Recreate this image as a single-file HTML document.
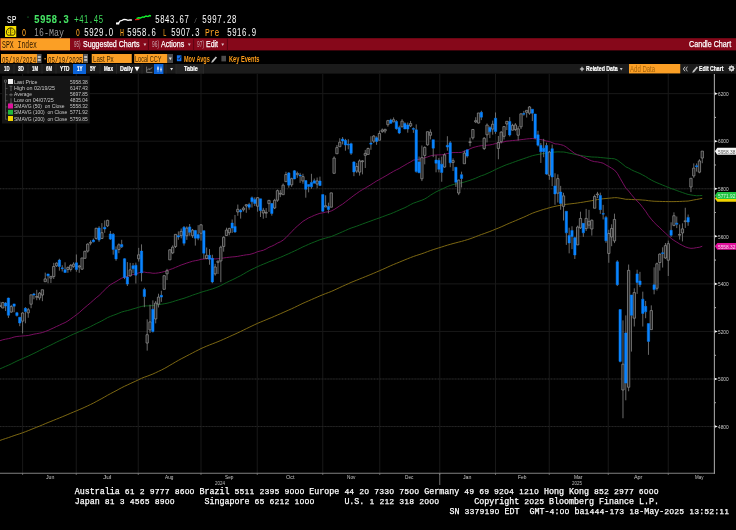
<!DOCTYPE html>
<html lang="en"><head><meta charset="utf-8"><title>SPX Index - Candle Chart</title>
<style>
html,body{margin:0;padding:0;background:#000;}
body{width:736px;height:530px;position:relative;overflow:hidden;font-family:"Liberation Sans",sans-serif;}
.chart{position:absolute;left:0;top:0;}
.t{position:absolute;white-space:pre;line-height:1;transform-origin:0 0;}
.m{font-family:"Liberation Mono",monospace;}
.m i{font-family:"Liberation Sans",sans-serif;font-style:normal;display:inline-block;width:0.6316em;font-size:0.95em;text-align:center;}
.r{position:absolute;}
.ic{position:absolute;overflow:visible;}
.foot{position:absolute;margin:0;left:74.75px;top:487.1px;font-family:"Liberation Mono",monospace;font-size:8.333px;line-height:10px;color:#fff;white-space:pre;-webkit-text-stroke:0.25px #fff;}
</style></head>
<body>
<svg class="chart" width="736" height="530" viewBox="0 0 736 530">
<path d="M22.6 74V473.25M76.25 74V473.25M138.25 74V473.25M201 74V473.25M257.25 74V473.25M322.75 74V473.25M379.75 74V473.25M439.75 74V473.25M495.5 74V473.25M549.25 74V473.25M608.25 74V473.25M668.25 74V473.25" stroke="#181818" stroke-width="1" fill="none"/>
<path d="M0 426.56H714.4M0 379.00H714.4M0 331.44H714.4M0 283.88H714.4M0 236.32H714.4M0 188.76H714.4M0 141.20H714.4M0 93.64H714.4" stroke="#181818" stroke-width="1" fill="none"/>
<path d="M0 426.56H714.4M0 379.00H714.4M0 188.76H714.4" stroke="#2a2a2a" stroke-width="1" stroke-dasharray="0.9 2" fill="none"/>
<polyline points="-0.07,440.46 2.76,439.46 5.59,438.52 8.43,437.61 11.26,436.61 14.09,435.62 16.92,434.66 19.75,433.78 22.59,432.78 25.42,431.73 28.25,430.64 31.08,429.47 33.91,428.34 36.75,427.19 39.58,426.10 42.41,424.91 45.24,423.70 48.07,422.51 50.91,421.40 53.74,420.26 56.57,419.10 59.40,417.96 62.23,416.81 65.07,415.64 67.90,414.43 70.73,413.22 73.56,412.03 76.39,410.84 79.23,409.65 82.06,408.45 84.89,407.16 87.72,405.84 90.55,404.49 93.39,403.10 96.22,401.55 99.05,400.04 101.88,398.52 104.71,396.91 107.55,395.25 110.38,393.72 113.21,392.23 116.04,390.78 118.87,389.19 121.71,387.66 124.54,386.27 127.37,384.97 130.20,383.64 133.03,382.32 135.87,381.06 138.70,379.67 141.53,378.34 144.36,377.18 147.19,376.21 150.03,375.11 152.86,374.02 155.69,372.71 158.52,371.37 161.35,370.07 164.19,368.59 167.02,367.02 169.85,365.32 172.68,363.68 175.51,361.99 178.35,360.38 181.18,358.83 184.01,357.39 186.84,355.88 189.67,354.41 192.51,352.93 195.34,351.45 198.17,350.05 201.00,348.58 203.83,347.35 206.67,346.14 209.50,344.96 212.33,343.89 215.16,342.79 217.99,341.66 220.83,340.47 223.66,339.24 226.49,337.96 229.32,336.68 232.15,335.39 234.99,334.14 237.82,332.81 240.65,331.46 243.48,330.09 246.31,328.69 249.15,327.33 251.98,325.98 254.81,324.65 257.64,323.32 260.47,322.13 263.31,320.95 266.14,319.79 268.97,318.59 271.80,317.48 274.63,316.23 277.47,314.99 280.30,313.77 283.13,312.53 285.96,311.25 288.79,310.02 291.63,308.75 294.46,307.44 297.29,306.06 300.12,304.68 302.95,303.30 305.79,302.08 308.62,300.82 311.45,299.60 314.28,298.36 317.11,297.12 319.95,295.87 322.78,294.72 325.61,293.59 328.44,292.56 331.27,291.45 334.11,290.18 336.94,288.87 339.77,287.56 342.60,286.24 345.43,284.98 348.27,283.72 351.10,282.41 353.93,281.26 356.76,280.15 359.59,278.99 362.43,277.85 365.26,276.72 368.09,275.56 370.92,274.42 373.75,273.23 376.59,271.99 379.42,270.76 382.25,269.55 385.08,268.31 387.91,266.99 390.75,265.69 393.58,264.49 396.41,263.35 399.24,262.20 402.07,261.00 404.91,259.84 407.74,258.70 410.57,257.59 413.40,256.49 416.23,255.55 419.07,254.64 421.90,253.72 424.73,252.71 427.56,251.62 430.39,250.59 433.23,249.63 436.06,248.73 438.89,247.83 441.72,246.97 444.55,246.06 447.39,245.17 450.22,244.38 453.05,243.56 455.88,242.84 458.71,242.09 461.55,241.38 464.38,240.55 467.21,239.73 470.04,238.79 472.87,237.79 475.71,236.68 478.54,235.59 481.37,234.52 484.20,233.57 487.03,232.49 489.87,231.49 492.70,230.36 495.53,229.20 498.36,228.08 501.19,226.87 504.03,225.62 506.86,224.29 509.69,223.08 512.52,221.90 515.35,220.72 518.19,219.52 521.02,218.31 523.85,217.13 526.68,215.83 529.51,214.49 532.35,213.24 535.18,212.18 538.01,211.23 540.84,210.32 543.67,209.40 546.51,208.63 549.34,207.76 552.17,207.02 555.00,206.38 557.83,205.75 560.67,205.22 563.50,204.67 566.33,204.30 569.16,204.01 571.99,203.66 574.83,203.36 577.66,202.96 580.49,202.52 583.32,202.11 586.15,201.58 588.99,201.13 591.82,200.67 594.65,200.10 597.48,199.60 600.31,199.17 603.15,198.76 605.98,198.50 608.81,198.22 611.64,197.97 614.47,197.68 617.31,197.73 620.14,198.20 622.97,198.71 625.80,199.29 628.63,199.30 631.47,199.51 634.30,199.64 637.13,199.72 639.96,199.83 642.79,200.05 645.63,200.27 648.46,200.69 651.29,200.99 654.12,201.22 656.95,201.32 659.79,201.38 662.62,201.51 665.45,201.54 668.28,201.59 671.11,201.62 673.95,201.60 676.78,201.53 679.61,201.45 682.44,201.30 685.27,201.18 688.11,201.06 690.94,200.56 693.77,199.98 696.60,199.47 699.43,198.93 702.27,198.31" fill="none" stroke="#8a7314" stroke-width="0.9" stroke-linejoin="round"/>
<polyline points="-0.07,368.91 2.76,367.63 5.59,366.38 8.43,365.20 11.26,363.86 14.09,362.43 16.92,361.06 19.75,359.78 22.59,358.55 25.42,357.30 28.25,356.09 31.08,354.73 33.91,353.38 36.75,351.99 39.58,350.52 42.41,349.10 45.24,347.72 48.07,346.33 50.91,344.99 53.74,343.55 56.57,342.14 59.40,340.75 62.23,339.48 65.07,338.23 67.90,336.75 70.73,335.39 73.56,334.14 76.39,332.91 79.23,331.67 82.06,330.45 84.89,329.17 87.72,327.88 90.55,326.57 93.39,325.09 96.22,323.59 99.05,322.27 101.88,320.82 104.71,319.26 107.55,317.63 110.38,316.43 113.21,315.35 116.04,314.32 118.87,313.16 121.71,312.00 124.54,311.22 127.37,310.59 130.20,309.81 133.03,308.90 135.87,308.11 138.70,307.24 141.53,306.47 144.36,305.93 147.19,305.90 150.03,305.73 152.86,305.61 155.69,305.13 158.52,304.66 161.35,304.27 164.19,303.77 167.02,303.26 169.85,302.53 172.68,301.73 175.51,300.77 178.35,299.94 181.18,299.07 184.01,298.29 186.84,297.27 189.67,296.31 192.51,295.17 195.34,294.24 198.17,293.32 201.00,292.28 203.83,291.40 206.67,290.64 209.50,289.73 212.33,288.91 215.16,287.91 217.99,286.79 220.83,285.49 223.66,284.00 226.49,282.54 229.32,281.20 232.15,279.86 234.99,278.50 237.82,277.05 240.65,275.65 243.48,274.03 246.31,272.33 249.15,270.76 251.98,269.29 254.81,267.97 257.64,266.60 260.47,265.36 263.31,264.18 266.14,263.05 268.97,261.79 271.80,260.72 274.63,259.67 277.47,258.49 280.30,257.36 283.13,256.15 285.96,254.87 288.79,253.66 291.63,252.30 294.46,251.02 297.29,249.69 300.12,248.30 302.95,246.83 305.79,245.60 308.62,244.34 311.45,243.11 314.28,242.00 317.11,240.86 319.95,239.75 322.78,238.93 325.61,238.09 328.44,237.39 331.27,236.56 334.11,235.38 336.94,234.19 339.77,232.98 342.60,231.73 345.43,230.49 348.27,229.21 351.10,228.07 353.93,227.14 356.76,226.16 359.59,225.08 362.43,224.02 365.26,222.98 368.09,221.95 370.92,220.95 373.75,219.88 376.59,218.88 379.42,217.93 382.25,216.83 385.08,215.80 387.91,214.72 390.75,213.75 393.58,212.55 396.41,211.35 399.24,210.09 402.07,208.85 404.91,207.67 407.74,206.19 410.57,204.58 413.40,203.18 416.23,202.20 419.07,201.18 421.90,200.21 424.73,198.95 427.56,197.31 430.39,195.28 433.23,193.54 436.06,191.86 438.89,190.52 441.72,189.28 444.55,187.85 447.39,186.57 450.22,185.49 453.05,184.60 455.88,183.95 458.71,183.41 461.55,182.82 464.38,182.04 467.21,181.17 470.04,180.31 472.87,179.28 475.71,178.18 478.54,176.93 481.37,175.72 484.20,174.85 487.03,173.57 489.87,172.34 492.70,170.99 495.53,169.49 498.36,168.24 501.19,166.95 504.03,165.74 506.86,164.58 509.69,163.63 512.52,162.60 515.35,161.57 518.19,160.54 521.02,159.58 523.85,158.60 526.68,157.63 529.51,156.65 532.35,155.71 535.18,155.07 538.01,154.49 540.84,154.03 543.67,153.44 546.51,153.08 549.34,152.48 552.17,152.24 555.00,152.05 557.83,151.83 560.67,151.96 563.50,151.98 566.33,152.46 569.16,153.14 571.99,153.65 574.83,154.42 577.66,154.90 580.49,155.35 583.32,155.92 586.15,156.34 588.99,156.66 591.82,157.00 594.65,157.09 597.48,157.20 600.31,157.49 603.15,157.78 605.98,158.07 608.81,158.35 611.64,158.54 614.47,158.81 617.31,160.07 620.14,162.21 622.97,164.43 625.80,166.85 628.63,168.11 631.47,169.81 634.30,171.20 637.13,172.31 639.96,173.49 642.79,175.02 645.63,176.52 648.46,178.40 651.29,180.03 654.12,181.48 656.95,182.76 659.79,183.88 662.62,185.08 665.45,186.24 668.28,187.38 671.11,188.53 673.95,189.45 676.78,190.50 679.61,191.56 682.44,192.52 685.27,193.52 688.11,194.45 690.94,194.94 693.77,195.38 696.60,195.76 699.43,195.65 702.27,195.44" fill="none" stroke="#0c661e" stroke-width="0.9" stroke-linejoin="round"/>
<polyline points="-0.07,340.75 2.76,339.79 5.59,339.16 8.43,338.67 11.26,337.94 14.09,337.04 16.92,336.48 19.75,336.21 22.59,335.96 25.42,335.76 28.25,335.49 31.08,334.84 33.91,334.13 36.75,333.66 39.58,333.16 42.41,332.53 45.24,331.51 48.07,330.45 50.91,329.10 53.74,327.82 56.57,326.46 59.40,325.21 62.23,323.77 65.07,322.58 67.90,320.94 70.73,318.96 73.56,316.91 76.39,314.82 79.23,312.62 82.06,310.04 84.89,307.54 87.72,305.17 90.55,302.79 93.39,300.28 96.22,297.74 99.05,295.51 101.88,292.75 104.71,289.84 107.55,286.97 110.38,284.78 113.21,283.05 116.04,281.54 118.87,279.75 121.71,278.12 124.54,277.15 127.37,276.31 130.20,275.29 133.03,274.56 135.87,273.89 138.70,272.85 141.53,272.19 144.36,272.07 147.19,272.65 150.03,272.78 152.86,273.28 155.69,273.22 158.52,272.85 161.35,272.33 164.19,271.58 167.02,270.77 169.85,269.57 172.68,268.62 175.51,267.40 178.35,266.21 181.18,264.98 184.01,264.05 186.84,263.03 189.67,262.16 192.51,261.24 195.34,260.67 198.17,260.17 201.00,259.34 203.83,259.03 206.67,258.69 209.50,258.53 212.33,258.86 215.16,258.91 217.99,258.75 220.83,258.37 223.66,257.96 226.49,257.54 229.32,257.22 232.15,256.93 234.99,256.73 237.82,256.35 240.65,255.79 243.48,255.30 246.31,254.82 249.15,254.56 251.98,253.81 254.81,252.89 257.64,251.66 260.47,250.98 263.31,250.25 266.14,248.95 268.97,247.27 271.80,246.15 274.63,244.78 277.47,243.09 280.30,241.86 283.13,240.11 285.96,237.67 288.79,234.68 291.63,231.81 294.46,228.76 297.29,226.17 300.12,223.74 302.95,221.33 305.79,219.61 308.62,217.92 311.45,216.66 314.28,215.38 317.11,214.31 319.95,213.28 322.78,212.88 325.61,212.13 328.44,211.75 331.27,210.97 334.11,209.52 336.94,207.71 339.77,205.79 342.60,204.11 345.43,201.95 348.27,199.74 351.10,197.62 353.93,195.42 356.76,193.41 359.59,191.40 362.43,189.68 365.26,188.00 368.09,186.37 370.92,184.68 373.75,182.84 376.59,181.03 379.42,179.51 382.25,177.88 385.08,176.30 387.91,174.62 390.75,172.94 393.58,171.30 396.41,169.80 399.24,168.51 402.07,166.72 404.91,165.10 407.74,163.43 410.57,161.89 413.40,160.20 416.23,159.63 419.07,159.27 421.90,158.55 424.73,157.80 427.56,156.94 430.39,155.88 433.23,155.27 436.06,154.96 438.89,154.88 441.72,154.81 444.55,154.38 447.39,153.53 450.22,153.06 453.05,152.54 455.88,152.52 458.71,152.50 461.55,152.36 464.38,151.20 467.21,150.21 470.04,148.86 472.87,147.59 475.71,146.84 478.54,146.15 481.37,145.65 484.20,145.60 487.03,145.20 489.87,144.94 492.70,144.36 495.53,143.55 498.36,143.07 501.19,142.50 504.03,141.81 506.86,141.17 509.69,140.90 512.52,140.52 515.35,140.30 518.19,140.05 521.02,139.65 523.85,139.33 526.68,138.95 529.51,138.68 532.35,138.48 535.18,138.85 538.01,139.18 540.84,139.56 543.67,140.17 546.51,141.07 549.34,141.53 552.17,142.59 555.00,143.89 557.83,144.03 560.67,144.64 563.50,145.41 566.33,147.12 569.16,149.34 571.99,151.43 574.83,153.56 577.66,154.84 580.49,155.82 583.32,157.03 586.15,158.30 588.99,159.78 591.82,160.93 594.65,161.65 597.48,161.89 600.31,162.48 603.15,163.19 605.98,164.94 608.81,166.49 611.64,168.22 614.47,170.02 617.31,173.30 620.14,178.27 622.97,183.21 625.80,188.11 628.63,191.01 631.47,194.68 634.30,198.05 637.13,201.07 639.96,203.91 642.79,207.53 645.63,211.24 648.46,215.64 651.29,219.15 654.12,222.43 656.95,225.21 659.79,227.72 662.62,230.50 665.45,233.14 668.28,235.80 671.11,238.37 673.95,240.42 676.78,242.15 679.61,243.94 682.44,245.48 685.27,246.87 688.11,247.83 690.94,248.35 693.77,248.18 696.60,247.63 699.43,247.28 702.27,246.23" fill="none" stroke="#86106a" stroke-width="0.9" stroke-linejoin="round"/>
<path d="M-0.07 301.64V305.66M-0.07 306.46V307.09M2.76 301.88V302.57M2.76 307.97V308.17M5.59 302.15V303.08M5.59 305.99V310.99M8.43 297.70V298.09M8.43 315.31V317.90M11.26 304.89V306.54M11.26 312.07V312.80M14.09 303.88V303.88M14.09 306.22V312.20M16.92 311.88V312.72M16.92 315.52V316.53M19.75 317.12V317.23M19.75 323.00V326.18M22.59 312.34V313.01M22.59 321.16V333.42M25.42 307.16V308.34M25.42 311.61V323.28M28.25 307.95V309.72M28.25 312.83V317.74M31.08 294.78V294.81M31.08 304.22V308.22M33.91 292.83V293.92M33.91 295.07V299.25M36.75 289.81V296.46M36.75 297.26V300.21M39.58 292.02V293.20M39.58 297.86V300.16M42.41 289.60V289.75M42.41 295.06V301.18M45.24 272.64V278.88M45.24 281.71V281.71M48.07 273.91V273.91M48.07 275.86V283.28M50.91 276.18V276.37M50.91 278.15V282.99M53.74 262.83V266.47M53.74 276.48V279.03M56.57 262.39V263.18M56.57 265.77V266.92M59.40 258.78V260.10M59.40 266.48V270.67M62.23 265.26V267.86M62.23 268.66V271.51M65.07 262.32V269.71M65.07 272.50V272.56M67.90 266.55V267.40M67.90 269.44V272.81M70.73 264.11V265.36M70.73 269.44V271.55M73.56 262.29V264.17M73.56 266.38V267.82M76.39 254.48V262.84M76.39 269.50V271.72M79.23 264.96V266.02M79.23 266.98V272.82M82.06 257.80V257.96M82.06 269.17V269.99M84.89 250.76V251.30M84.89 258.33V258.34M87.72 243.38V244.12M87.72 251.09V252.58M90.55 240.34V242.39M90.55 243.19V245.24M93.39 238.52V240.07M93.39 241.79V242.37M96.22 227.90V228.26M96.22 238.40V239.54M99.05 226.23V227.95M99.05 240.00V241.90M101.88 223.11V232.67M101.88 238.52V238.59M104.71 220.40V227.25M104.71 228.90V232.81M107.55 219.75V220.34M107.55 225.84V227.04M110.38 230.97V233.93M110.38 239.11V239.93M113.21 232.98V234.28M113.21 249.50V254.68M116.04 246.43V249.79M116.04 258.91V260.80M118.87 243.37V244.78M118.87 249.51V253.19M121.71 239.81V244.57M121.71 246.85V248.00M124.54 258.19V258.71M124.54 277.43V279.13M127.37 262.10V277.06M127.37 284.07V286.03M130.20 262.88V269.83M130.20 275.87V276.58M133.03 263.02V265.68M133.03 268.77V273.31M135.87 262.61V265.16M135.87 275.21V283.48M138.70 247.85V254.80M138.70 258.77V261.59M141.53 244.37V251.10M141.53 272.78V281.40M144.36 287.71V289.44M144.36 296.59V307.18M147.19 319.34V334.69M147.19 343.06V350.64M150.03 304.73V321.92M150.03 329.91V332.97M152.86 300.37V309.29M152.86 331.56V332.50M155.69 300.99V303.07M155.69 318.94V323.39M158.52 293.71V297.16M158.52 304.17V307.46M161.35 290.73V295.32M161.35 297.10V301.86M164.19 275.20V275.69M164.19 289.35V289.35M167.02 268.85V270.75M167.02 273.81V280.10M169.85 249.11V249.82M169.85 259.83V259.83M172.68 245.36V247.20M172.68 252.85V254.11M175.51 234.35V234.36M175.51 246.49V248.03M178.35 231.44V235.64M178.35 237.00V239.77M181.18 228.55V231.36M181.18 235.59V238.32M184.01 226.04V227.34M184.01 243.30V245.61M186.84 226.38V228.09M186.84 235.73V239.85M189.67 224.04V226.89M189.67 232.32V235.76M192.51 228.91V230.18M192.51 235.63V237.87M195.34 229.89V230.49M195.34 238.18V245.61M198.17 225.16V234.58M198.17 238.23V240.19M201.00 224.10V224.81M201.00 233.29V240.65M203.83 230.64V230.64M203.83 253.22V259.07M206.67 247.50V255.33M206.67 258.51V259.23M209.50 249.09V255.32M209.50 259.29V264.73M212.33 254.76V258.36M212.33 281.88V283.26M215.16 263.86V266.98M215.16 273.88V275.68M217.99 260.60V261.17M217.99 262.36V273.96M220.83 245.73V247.23M220.83 260.95V282.22M223.66 236.15V237.33M223.66 246.43V251.66M226.49 227.69V230.13M226.49 235.53V235.93M229.32 227.75V228.45M229.32 232.70V235.24M232.15 219.48V223.12M232.15 228.10V232.98M234.99 214.98V226.41M234.99 231.98V232.73M237.82 204.56V209.30M237.82 211.91V215.77M240.65 208.94V210.25M240.65 211.93V218.61M243.48 206.51V208.12M243.48 209.71V211.54M246.31 204.14V204.71M246.31 205.96V212.78M249.15 202.78V204.54M249.15 207.25V209.67M251.98 196.52V197.74M251.98 201.75V207.54M254.81 197.37V199.38M254.81 203.46V206.04M257.64 197.05V197.68M257.64 206.23V211.70M260.47 198.81V198.81M260.47 210.46V216.99M263.31 207.87V210.27M263.31 212.98V218.72M266.14 208.07V212.36M266.14 213.16V217.92M268.97 199.89V200.40M268.97 203.63V211.87M271.80 203.18V203.55M271.80 213.51V215.67M274.63 198.84V200.38M274.63 207.99V209.08M277.47 189.52V190.65M277.47 200.22V201.83M280.30 189.94V193.31M280.30 194.11V197.14M283.13 183.50V185.19M283.13 194.68V194.68M285.96 171.78V174.53M285.96 181.67V181.73M288.79 172.03V172.89M288.79 185.13V187.69M291.63 177.70V178.66M291.63 184.82V186.78M294.46 170.10V170.78M294.46 178.90V179.19M297.29 171.60V173.38M297.29 174.63V177.80M300.12 172.85V175.01M300.12 175.92V182.86M302.95 173.77V176.58M302.95 180.98V183.73M305.79 180.47V180.56M305.79 189.37V197.70M308.62 184.53V184.53M308.62 186.42V192.35M311.45 173.82V182.40M311.45 186.83V188.76M314.28 178.55V180.69M314.28 183.17V183.27M317.11 177.54V180.93M317.11 184.08V188.24M319.95 176.65V181.00M319.95 185.51V186.08M322.78 194.62V194.62M322.78 211.24V211.86M325.61 195.29V205.69M325.61 207.02V207.02M328.44 202.69V206.56M328.44 209.52V213.37M331.27 192.70V192.86M331.27 207.21V207.28M334.11 156.39V158.07M334.11 173.33V173.33M336.94 145.04V147.60M336.94 153.75V153.75M339.77 138.24V142.26M339.77 146.73V146.73M342.60 137.08V139.09M342.60 140.88V144.37M345.43 138.84V140.34M345.43 145.01V150.69M348.27 139.25V144.23M348.27 145.03V149.31M351.10 142.66V143.65M351.10 153.29V154.93M353.93 161.34V161.94M353.93 171.97V176.15M356.76 163.05V166.50M356.76 171.12V173.08M359.59 159.39V160.94M359.59 172.10V175.61M362.43 160.06V160.84M362.43 161.64V174.36M365.26 149.92V153.40M365.26 155.33V168.01M368.09 147.64V148.49M368.09 154.43V154.43M370.92 136.27V143.04M370.92 144.20V149.78M373.75 135.16V136.06M373.75 141.19V143.04M376.59 136.41V137.84M376.59 141.50V144.80M379.42 130.70V133.50M379.42 140.25V140.25M382.25 128.46V129.99M382.25 131.66V132.80M385.08 128.82V129.34M385.08 130.98V133.26M387.91 119.84V120.63M387.91 124.70V126.68M390.75 118.72V120.03M390.75 123.34V123.86M393.58 117.43V119.73M393.58 121.85V122.18M396.41 120.15V121.46M396.41 128.63V129.64M399.24 125.65V127.51M399.24 132.90V134.09M402.07 119.18V121.18M402.07 126.90V126.90M404.91 122.25V123.53M404.91 129.01V129.01M407.74 122.51V124.99M407.74 129.05V132.69M410.57 120.94V123.58M410.57 126.03V127.14M413.40 127.48V128.53M413.40 129.33V132.83M416.23 124.39V129.87M416.23 171.60V172.64M419.07 156.53V161.96M419.07 172.81V173.05M421.90 145.47V157.64M421.90 178.77V181.08M424.73 146.37V147.37M424.73 155.41V164.37M427.56 131.66V131.68M427.56 144.85V145.61M430.39 129.37V132.26M430.39 135.26V139.45M433.23 139.73V139.73M433.23 148.13V157.14M436.06 155.28V160.06M436.06 163.33V172.31M438.89 157.91V160.29M438.89 169.35V172.39M441.72 156.64V164.20M441.72 172.46V181.74M444.55 153.25V154.88M444.55 167.10V167.68M447.39 136.20V145.29M447.39 147.05V150.71M450.22 141.04V142.80M450.22 162.83V167.20M453.05 158.35V160.64M453.05 162.45V170.98M455.88 167.27V167.27M455.88 182.33V186.91M458.71 179.58V180.15M458.71 193.04V195.11M461.55 171.66V174.67M461.55 178.56V187.47M464.38 150.57V153.11M464.38 163.74V163.74M467.21 149.60V149.85M467.21 156.10V157.67M470.04 137.64V141.74M470.04 142.54V146.33M472.87 128.95V129.49M472.87 137.84V139.56M475.71 117.23V120.66M475.71 121.85V123.10M478.54 112.97V112.97M478.54 123.05V123.44M481.37 110.72V112.32M481.37 117.13V120.10M484.20 137.12V138.28M484.20 148.56V150.02M487.03 123.47V125.10M487.03 134.79V142.48M489.87 126.26V127.48M489.87 131.85V138.12M492.70 120.60V124.28M492.70 129.13V134.67M495.53 112.45V118.18M495.53 131.56V133.84M498.36 135.94V142.49M498.36 148.42V159.29M501.19 131.10V132.19M501.19 141.64V143.37M504.03 126.25V126.58M504.03 136.34V139.52M506.86 121.22V121.33M506.86 124.03V130.06M509.69 117.12V121.43M509.69 135.02V136.45M512.52 123.75V125.40M512.52 130.17V130.54M515.35 123.06V124.91M515.35 129.47V131.13M518.19 126.22V128.84M518.19 135.24V140.49M521.02 113.40V113.84M521.02 126.79V129.08M523.85 110.89V113.44M523.85 114.24V115.61M526.68 110.37V110.39M526.68 112.28V117.54M529.51 106.14V106.92M529.51 113.20V114.77M532.35 109.22V109.22M532.35 113.25V121.08M535.18 113.90V114.07M535.18 138.08V139.16M538.01 130.82V134.85M538.01 145.18V146.47M540.84 142.95V145.31M540.84 151.84V162.96M543.67 138.86V148.13M543.67 151.65V157.21M546.51 142.70V145.51M546.51 174.12V174.78M549.34 150.85V152.02M549.34 175.27V179.80M552.17 144.51V148.73M552.17 176.94V186.17M555.00 173.28V185.91M555.00 193.96V204.79M557.83 174.35V178.62M557.83 193.19V202.47M560.67 185.89V192.12M560.67 203.38V209.77M563.50 192.80V195.85M563.50 206.35V220.56M566.33 211.26V211.26M566.33 232.86V244.88M569.16 227.69V235.45M569.16 242.96V253.34M571.99 226.29V230.41M571.99 236.49V249.14M574.83 236.85V237.64M574.83 254.98V258.99M577.66 225.55V227.06M577.66 244.92V244.92M580.49 211.70V218.46M580.49 227.85V228.92M583.32 223.35V223.35M583.32 232.83V236.85M586.15 208.89V218.42M586.15 228.62V231.04M588.99 209.89V221.36M588.99 225.16V228.63M591.82 219.47V220.25M591.82 229.01V235.58M594.65 194.67V196.47M594.65 208.24V208.24M597.48 191.86V193.99M597.48 194.79V198.17M600.31 192.66V195.50M600.31 209.64V213.87M603.15 204.86V213.45M603.15 214.25V219.45M605.98 215.90V217.49M605.98 240.85V242.88M608.81 229.77V233.50M608.81 253.46V262.78M611.64 224.29V228.46M611.64 236.91V246.18M614.47 213.66V219.44M614.47 240.90V243.10M617.31 260.21V261.83M617.31 284.71V286.06M620.14 309.53V309.53M620.14 361.38V362.38M622.97 320.37V364.20M622.97 389.99V418.23M625.80 315.40V332.97M625.80 383.10V400.30M628.63 264.54V270.35M628.63 387.26V391.26M631.47 295.02V295.02M631.47 315.26V351.59M634.30 288.29V292.59M634.30 318.23V326.50M637.13 269.74V273.90M637.13 282.46V293.86M639.96 271.89V281.03M639.96 284.68V287.10M642.79 291.67V299.16M642.79 313.44V326.50M645.63 300.93V306.36M645.63 311.77V318.22M648.46 323.61V323.61M648.46 341.38V354.83M651.29 305.37V310.57M651.29 329.62V329.62M654.12 267.31V284.85M654.12 289.62V294.30M656.95 262.62V263.72M656.95 288.31V290.55M659.79 253.42V254.11M659.79 262.54V270.60M662.62 247.34V252.81M662.62 253.61V267.56M665.45 242.99V245.63M665.45 257.99V258.74M668.28 240.64V243.68M668.28 260.23V275.98M671.11 222.31V230.34M671.11 235.34V236.95M673.95 212.37V215.71M673.95 225.41V226.27M676.78 216.49V223.16M676.78 224.34V228.12M679.61 224.53V234.40M679.61 235.20V239.64M682.44 223.31V228.88M682.44 232.95V241.40M685.27 207.76V220.81M685.27 221.61V227.91M688.11 214.52V217.38M688.11 222.07V225.82M690.94 177.97V178.25M690.94 187.05V192.07M693.77 163.40V168.18M693.77 175.88V177.85M696.60 163.42V165.76M696.60 166.74V171.61M699.43 159.22V160.95M699.43 172.16V173.26M702.27 151.04V151.10M702.27 158.06V163.23" stroke="#858585" stroke-width="0.8" fill="none"/>
<path d="M-1.22 305.66h2.3V306.46h-2.3zM1.61 302.57h2.3V307.97h-2.3zM10.11 306.54h2.3V312.07h-2.3zM21.44 313.01h2.3V321.16h-2.3zM27.10 309.72h2.3V312.83h-2.3zM29.93 294.81h2.3V304.22h-2.3zM35.60 296.46h2.3V297.26h-2.3zM38.43 293.20h2.3V297.86h-2.3zM41.26 289.75h2.3V295.06h-2.3zM44.09 278.88h2.3V281.71h-2.3zM49.76 276.37h2.3V278.15h-2.3zM52.59 266.47h2.3V276.48h-2.3zM55.42 263.18h2.3V265.77h-2.3zM66.75 267.40h2.3V269.44h-2.3zM69.58 265.36h2.3V269.44h-2.3zM72.41 264.17h2.3V266.38h-2.3zM78.08 266.02h2.3V266.98h-2.3zM80.91 257.96h2.3V269.17h-2.3zM83.74 251.30h2.3V258.33h-2.3zM86.57 244.12h2.3V251.09h-2.3zM89.40 242.39h2.3V243.19h-2.3zM95.07 228.26h2.3V238.40h-2.3zM100.73 232.67h2.3V238.52h-2.3zM106.40 220.34h2.3V225.84h-2.3zM117.72 244.78h2.3V249.51h-2.3zM129.05 269.83h2.3V275.87h-2.3zM137.55 254.80h2.3V258.77h-2.3zM146.04 334.69h2.3V343.06h-2.3zM148.88 321.92h2.3V329.91h-2.3zM154.54 303.07h2.3V318.94h-2.3zM157.37 297.16h2.3V304.17h-2.3zM163.04 275.69h2.3V289.35h-2.3zM165.87 270.75h2.3V273.81h-2.3zM168.70 249.82h2.3V259.83h-2.3zM171.53 247.20h2.3V252.85h-2.3zM174.36 234.36h2.3V246.49h-2.3zM180.03 231.36h2.3V235.59h-2.3zM185.69 228.09h2.3V235.73h-2.3zM191.36 230.18h2.3V235.63h-2.3zM199.85 224.81h2.3V233.29h-2.3zM205.52 255.33h2.3V258.51h-2.3zM214.01 266.98h2.3V273.88h-2.3zM216.84 261.17h2.3V262.36h-2.3zM219.68 247.23h2.3V260.95h-2.3zM222.51 237.33h2.3V246.43h-2.3zM225.34 230.13h2.3V235.53h-2.3zM228.17 228.45h2.3V232.70h-2.3zM236.67 209.30h2.3V211.91h-2.3zM242.33 208.12h2.3V209.71h-2.3zM245.16 204.71h2.3V205.96h-2.3zM256.49 197.68h2.3V206.23h-2.3zM262.16 210.27h2.3V212.98h-2.3zM264.99 212.36h2.3V213.16h-2.3zM267.82 200.40h2.3V203.63h-2.3zM273.48 200.38h2.3V207.99h-2.3zM276.32 190.65h2.3V200.22h-2.3zM279.15 193.31h2.3V194.11h-2.3zM281.98 185.19h2.3V194.68h-2.3zM284.81 174.53h2.3V181.67h-2.3zM290.48 178.66h2.3V184.82h-2.3zM296.14 173.38h2.3V174.63h-2.3zM301.80 176.58h2.3V180.98h-2.3zM315.96 180.93h2.3V184.08h-2.3zM324.46 205.69h2.3V207.02h-2.3zM330.12 192.86h2.3V207.21h-2.3zM332.96 158.07h2.3V173.33h-2.3zM335.79 147.60h2.3V153.75h-2.3zM338.62 142.26h2.3V146.73h-2.3zM355.61 166.50h2.3V171.12h-2.3zM358.44 160.94h2.3V172.10h-2.3zM361.28 160.84h2.3V161.64h-2.3zM364.11 153.40h2.3V155.33h-2.3zM366.94 148.49h2.3V154.43h-2.3zM372.60 136.06h2.3V141.19h-2.3zM378.27 133.50h2.3V140.25h-2.3zM381.10 129.99h2.3V131.66h-2.3zM383.93 129.34h2.3V130.98h-2.3zM386.76 120.63h2.3V124.70h-2.3zM392.43 119.73h2.3V121.85h-2.3zM400.92 121.18h2.3V126.90h-2.3zM409.42 123.58h2.3V126.03h-2.3zM420.75 157.64h2.3V178.77h-2.3zM423.58 147.37h2.3V155.41h-2.3zM426.41 131.68h2.3V144.85h-2.3zM429.24 132.26h2.3V135.26h-2.3zM443.40 154.88h2.3V167.10h-2.3zM451.90 160.64h2.3V162.45h-2.3zM457.56 180.15h2.3V193.04h-2.3zM463.23 153.11h2.3V163.74h-2.3zM468.89 141.74h2.3V142.54h-2.3zM471.72 129.49h2.3V137.84h-2.3zM474.56 120.66h2.3V121.85h-2.3zM477.39 112.97h2.3V123.05h-2.3zM483.05 138.28h2.3V148.56h-2.3zM485.88 125.10h2.3V134.79h-2.3zM491.55 124.28h2.3V129.13h-2.3zM497.21 142.49h2.3V148.42h-2.3zM500.04 132.19h2.3V141.64h-2.3zM502.88 126.58h2.3V136.34h-2.3zM505.71 121.33h2.3V124.03h-2.3zM511.37 125.40h2.3V130.17h-2.3zM514.20 124.91h2.3V129.47h-2.3zM517.04 128.84h2.3V135.24h-2.3zM519.87 113.84h2.3V126.79h-2.3zM525.53 110.39h2.3V112.28h-2.3zM528.36 106.92h2.3V113.20h-2.3zM548.19 152.02h2.3V175.27h-2.3zM556.68 178.62h2.3V193.19h-2.3zM562.35 195.85h2.3V206.35h-2.3zM576.51 227.06h2.3V244.92h-2.3zM579.34 218.46h2.3V227.85h-2.3zM585.00 218.42h2.3V228.62h-2.3zM587.84 221.36h2.3V225.16h-2.3zM590.67 220.25h2.3V229.01h-2.3zM593.50 196.47h2.3V208.24h-2.3zM596.33 193.99h2.3V194.79h-2.3zM607.66 233.50h2.3V253.46h-2.3zM610.49 228.46h2.3V236.91h-2.3zM613.32 219.44h2.3V240.90h-2.3zM621.82 364.20h2.3V389.99h-2.3zM627.48 270.35h2.3V387.26h-2.3zM633.15 292.59h2.3V318.23h-2.3zM650.14 310.57h2.3V329.62h-2.3zM655.80 263.72h2.3V288.31h-2.3zM658.64 254.11h2.3V262.54h-2.3zM664.30 245.63h2.3V257.99h-2.3zM667.13 243.68h2.3V260.23h-2.3zM672.80 215.71h2.3V225.41h-2.3zM678.46 234.40h2.3V235.20h-2.3zM681.29 228.88h2.3V232.95h-2.3zM684.12 220.81h2.3V221.61h-2.3zM689.79 178.25h2.3V187.05h-2.3zM692.62 168.18h2.3V175.88h-2.3zM698.28 160.95h2.3V172.16h-2.3zM701.12 151.10h2.3V158.06h-2.3z" stroke="#9a9a9a" stroke-width="0.7" fill="#1f1f1f"/>
<path d="M4.44 303.08h2.3V305.99h-2.3zM7.28 298.09h2.3V315.31h-2.3zM12.94 303.88h2.3V306.22h-2.3zM15.77 312.72h2.3V315.52h-2.3zM18.60 317.23h2.3V323.00h-2.3zM24.27 308.34h2.3V311.61h-2.3zM32.76 293.92h2.3V295.07h-2.3zM46.92 273.91h2.3V275.86h-2.3zM58.25 260.10h2.3V266.48h-2.3zM61.08 267.86h2.3V268.66h-2.3zM63.92 269.71h2.3V272.50h-2.3zM75.24 262.84h2.3V269.50h-2.3zM92.24 240.07h2.3V241.79h-2.3zM97.90 227.95h2.3V240.00h-2.3zM103.56 227.25h2.3V228.90h-2.3zM109.23 233.93h2.3V239.11h-2.3zM112.06 234.28h2.3V249.50h-2.3zM114.89 249.79h2.3V258.91h-2.3zM120.56 244.57h2.3V246.85h-2.3zM123.39 258.71h2.3V277.43h-2.3zM126.22 277.06h2.3V284.07h-2.3zM131.88 265.68h2.3V268.77h-2.3zM134.72 265.16h2.3V275.21h-2.3zM140.38 251.10h2.3V272.78h-2.3zM143.21 289.44h2.3V296.59h-2.3zM151.71 309.29h2.3V331.56h-2.3zM160.20 295.32h2.3V297.10h-2.3zM177.20 235.64h2.3V237.00h-2.3zM182.86 227.34h2.3V243.30h-2.3zM188.52 226.89h2.3V232.32h-2.3zM194.19 230.49h2.3V238.18h-2.3zM197.02 234.58h2.3V238.23h-2.3zM202.68 230.64h2.3V253.22h-2.3zM208.35 255.32h2.3V259.29h-2.3zM211.18 258.36h2.3V281.88h-2.3zM231.00 223.12h2.3V228.10h-2.3zM233.84 226.41h2.3V231.98h-2.3zM239.50 210.25h2.3V211.93h-2.3zM248.00 204.54h2.3V207.25h-2.3zM250.83 197.74h2.3V201.75h-2.3zM253.66 199.38h2.3V203.46h-2.3zM259.32 198.81h2.3V210.46h-2.3zM270.65 203.55h2.3V213.51h-2.3zM287.64 172.89h2.3V185.13h-2.3zM293.31 170.78h2.3V178.90h-2.3zM298.97 175.01h2.3V175.92h-2.3zM304.64 180.56h2.3V189.37h-2.3zM307.47 184.53h2.3V186.42h-2.3zM310.30 182.40h2.3V186.83h-2.3zM313.13 180.69h2.3V183.17h-2.3zM318.80 181.00h2.3V185.51h-2.3zM321.63 194.62h2.3V211.24h-2.3zM327.29 206.56h2.3V209.52h-2.3zM341.45 139.09h2.3V140.88h-2.3zM344.28 140.34h2.3V145.01h-2.3zM347.12 144.23h2.3V145.03h-2.3zM349.95 143.65h2.3V153.29h-2.3zM352.78 161.94h2.3V171.97h-2.3zM369.77 143.04h2.3V144.20h-2.3zM375.44 137.84h2.3V141.50h-2.3zM389.60 120.03h2.3V123.34h-2.3zM395.26 121.46h2.3V128.63h-2.3zM398.09 127.51h2.3V132.90h-2.3zM403.76 123.53h2.3V129.01h-2.3zM406.59 124.99h2.3V129.05h-2.3zM412.25 128.53h2.3V129.33h-2.3zM415.08 129.87h2.3V171.60h-2.3zM417.92 161.96h2.3V172.81h-2.3zM432.08 139.73h2.3V148.13h-2.3zM434.91 160.06h2.3V163.33h-2.3zM437.74 160.29h2.3V169.35h-2.3zM440.57 164.20h2.3V172.46h-2.3zM446.24 145.29h2.3V147.05h-2.3zM449.07 142.80h2.3V162.83h-2.3zM454.73 167.27h2.3V182.33h-2.3zM460.40 174.67h2.3V178.56h-2.3zM466.06 149.85h2.3V156.10h-2.3zM480.22 112.32h2.3V117.13h-2.3zM488.72 127.48h2.3V131.85h-2.3zM494.38 118.18h2.3V131.56h-2.3zM508.54 121.43h2.3V135.02h-2.3zM522.70 113.44h2.3V114.24h-2.3zM531.20 109.22h2.3V113.25h-2.3zM534.03 114.07h2.3V138.08h-2.3zM536.86 134.85h2.3V145.18h-2.3zM539.69 145.31h2.3V151.84h-2.3zM542.52 148.13h2.3V151.65h-2.3zM545.36 145.51h2.3V174.12h-2.3zM551.02 148.73h2.3V176.94h-2.3zM553.85 185.91h2.3V193.96h-2.3zM559.52 192.12h2.3V203.38h-2.3zM565.18 211.26h2.3V232.86h-2.3zM568.01 235.45h2.3V242.96h-2.3zM570.84 230.41h2.3V236.49h-2.3zM573.68 237.64h2.3V254.98h-2.3zM582.17 223.35h2.3V232.83h-2.3zM599.16 195.50h2.3V209.64h-2.3zM602.00 213.45h2.3V214.25h-2.3zM604.83 217.49h2.3V240.85h-2.3zM616.16 261.83h2.3V284.71h-2.3zM618.99 309.53h2.3V361.38h-2.3zM624.65 332.97h2.3V383.10h-2.3zM630.32 295.02h2.3V315.26h-2.3zM635.98 273.90h2.3V282.46h-2.3zM638.81 281.03h2.3V284.68h-2.3zM641.64 299.16h2.3V313.44h-2.3zM644.48 306.36h2.3V311.77h-2.3zM647.31 323.61h2.3V341.38h-2.3zM652.97 284.85h2.3V289.62h-2.3zM661.47 252.81h2.3V253.61h-2.3zM669.96 230.34h2.3V235.34h-2.3zM675.63 223.16h2.3V224.34h-2.3zM686.96 217.38h2.3V222.07h-2.3zM695.45 165.76h2.3V166.74h-2.3z" stroke="#0a84ff" stroke-width="0.5" fill="#0a84ff"/>
<path d="M0 473.25H715.0" stroke="#808080" stroke-width="1" fill="none"/>
<path d="M714.4 74V473.75" stroke="#a0a0a0" stroke-width="1.1" fill="none"/>
<path d="M714.8 425.26L717.8 426.56L714.8 427.86zM714.8 377.70L717.8 379.00L714.8 380.30zM714.8 330.14L717.8 331.44L714.8 332.74zM714.8 282.58L717.8 283.88L714.8 285.18zM714.8 235.02L717.8 236.32L714.8 237.62zM714.8 187.46L717.8 188.76L714.8 190.06zM714.8 139.90L717.8 141.20L714.8 142.50zM714.8 92.34L717.8 93.64L714.8 94.94zM714.9 401.98L716.0 402.78L714.9 403.58zM714.9 354.42L716.0 355.22L714.9 356.02zM714.9 306.86L716.0 307.66L714.9 308.46zM714.9 259.30L716.0 260.10L714.9 260.90zM714.9 211.74L716.0 212.54L714.9 213.34zM714.9 164.18L716.0 164.98L714.9 165.78zM714.9 116.62L716.0 117.42L714.9 118.22z" fill="#f2f2f2"/>
<path d="M22.6 473.25v1.6M76.25 473.25v1.6M138.25 473.25v1.6M201 473.25v1.6M257.25 473.25v1.6M322.75 473.25v1.6M379.75 473.25v1.6M439.75 473.25v1.6M495.5 473.25v1.6M549.25 473.25v1.6M608.25 473.25v1.6M668.25 473.25v1.6M439.75 473.25V485" stroke="#8a8a8a" stroke-width="0.8" fill="none"/>
<path d="M714.9 198.41L717.3 194.96H736V201.86H717.3z" fill="#f2d400"/>
<path d="M714.9 195.54L717.3 192.09H736V198.99H717.3z" fill="#22c545"/>
<path d="M714.9 246.33L717.3 242.88H736V249.78H717.3z" fill="#e0109c"/>
<path d="M714.9 151.20L717.3 147.75H736V154.65H717.3z" fill="#f4f4f4"/>
</svg>
<span class="t m" style="left:6.50px;top:15.49px;font-size:10.65px;transform:scaleX(0.744);color:#ffffff;">SP</span>
<svg class="r" style="left:27px;top:16px" width="2" height="2"><rect x="0.50" y="0.60" width="1.00" height="1.00" fill="#2aa644"/></svg>
<span class="t m" style="left:33.75px;top:15.26px;font-size:10.95px;transform:scaleX(0.888);color:#46e465;font-weight:bold;-webkit-text-stroke:0.12px #46e465;"><i>5</i><i>9</i><i>5</i><i>8</i>.<i>3</i></span>
<span class="t m" style="left:73.75px;top:15.49px;font-size:10.65px;transform:scaleX(0.763);color:#3fdc5c;">+<i>4</i><i>1</i>.<i>4</i><i>5</i></span>
<span class="t m" style="left:154.50px;top:15.49px;font-size:10.65px;transform:scaleX(0.763);color:#ffffff;"><i>5</i><i>8</i><i>4</i><i>3</i>.<i>6</i><i>7</i></span>
<span class="t m" style="left:194.00px;top:18.22px;font-size:7.60px;transform:scaleX(0.657);color:#7c7c7c;">/</span>
<span class="t m" style="left:201.50px;top:15.49px;font-size:10.65px;transform:scaleX(0.777);color:#ffffff;"><i>5</i><i>9</i><i>9</i><i>7</i>.<i>2</i><i>8</i></span>
<span class="t m" style="left:22.00px;top:28.49px;font-size:10.65px;transform:scaleX(0.626);color:#ffa424;">O</span>
<span class="t m" style="left:33.90px;top:28.49px;font-size:10.65px;transform:scaleX(0.785);color:#9a9a9a;"><i>1</i><i>6</i>-May</span>
<span class="t m" style="left:76.25px;top:28.49px;font-size:10.65px;transform:scaleX(0.587);color:#ffa424;">O</span>
<span class="t m" style="left:83.50px;top:28.49px;font-size:10.65px;transform:scaleX(0.770);color:#ffffff;"><i>5</i><i>9</i><i>2</i><i>9</i>.<i>0</i></span>
<span class="t m" style="left:119.50px;top:28.49px;font-size:10.65px;transform:scaleX(0.626);color:#ffa424;">H</span>
<span class="t m" style="left:126.75px;top:28.49px;font-size:10.65px;transform:scaleX(0.763);color:#ffffff;"><i>5</i><i>9</i><i>5</i><i>8</i>.<i>6</i></span>
<span class="t m" style="left:163.00px;top:28.49px;font-size:10.65px;transform:scaleX(0.548);color:#ffa424;">L</span>
<span class="t m" style="left:170.75px;top:28.49px;font-size:10.65px;transform:scaleX(0.753);color:#ffffff;"><i>5</i><i>9</i><i>0</i><i>7</i>.<i>3</i></span>
<span class="t m" style="left:204.60px;top:28.49px;font-size:10.65px;transform:scaleX(0.751);color:#ffa424;">Pre</span>
<span class="t m" style="left:226.50px;top:28.49px;font-size:10.65px;transform:scaleX(0.770);color:#ffffff;"><i>5</i><i>9</i><i>1</i><i>6</i>.<i>9</i></span>
<svg class="r" style="left:0px;top:38px" width="736" height="13"><rect x="0.00" y="0.20" width="736.00" height="12.20" fill="#86081a"/></svg>
<svg class="r" style="left:0px;top:38px" width="70" height="13"><rect x="0.60" y="0.30" width="69.40" height="12.00" fill="#fb9f25"/></svg>
<span class="t m" style="left:2.00px;top:40.41px;font-size:10.95px;transform:scaleX(0.592);color:#2a1700;">SPX Index</span>
<span class="t" style="left:73.50px;top:40.32px;font-size:9.31px;transform:scaleX(0.483);color:#c7a3ab;">95)</span>
<span class="t" style="left:83.00px;top:40.24px;font-size:9.16px;transform:scaleX(0.772);color:#ffffff;-webkit-text-stroke:0.25px #fff;">Suggested Charts</span>
<span class="t" style="left:152.00px;top:40.32px;font-size:9.31px;transform:scaleX(0.520);color:#c7a3ab;">96)</span>
<span class="t" style="left:161.00px;top:40.24px;font-size:9.16px;transform:scaleX(0.774);color:#ffffff;-webkit-text-stroke:0.25px #fff;">Actions</span>
<span class="t" style="left:197.00px;top:40.32px;font-size:9.31px;transform:scaleX(0.520);color:#c7a3ab;">97)</span>
<span class="t" style="left:206.00px;top:40.24px;font-size:9.16px;transform:scaleX(0.760);color:#ffffff;-webkit-text-stroke:0.25px #fff;">Edit</span>
<span class="t" style="left:688.75px;top:39.84px;font-size:9.16px;transform:scaleX(0.782);color:#ffffff;-webkit-text-stroke:0.25px #fff;">Candle Chart</span>
<svg class="r" style="left:147px;top:38px" width="2" height="13"><rect x="0.90" y="0.20" width="1.00" height="12.20" fill="#5c0512"/></svg>
<svg class="r" style="left:193px;top:38px" width="2" height="13"><rect x="0.10" y="0.20" width="1.00" height="12.20" fill="#5c0512"/></svg>
<svg class="r" style="left:226px;top:38px" width="2" height="13"><rect x="0.90" y="0.20" width="1.00" height="12.20" fill="#5c0512"/></svg>
<svg class="r" style="left:142px;top:42px" width="6" height="6"><path d="M1.45 1.40h2.9L2.90 3.90z" fill="#dcc3c8"/></svg>
<svg class="r" style="left:186px;top:42px" width="6" height="6"><path d="M1.85 1.40h2.9L3.30 3.90z" fill="#dcc3c8"/></svg>
<svg class="r" style="left:220px;top:42px" width="6" height="6"><path d="M1.25 1.40h2.9L2.70 3.90z" fill="#dcc3c8"/></svg>
<svg class="r" style="left:1px;top:54px" width="36" height="9"><rect x="0.00" y="0.00" width="36.00" height="9.00" fill="#fb9f25"/></svg>
<svg class="r" style="left:37px;top:54px" width="5" height="9"><rect x="0.00" y="0.00" width="4.50" height="9.00" fill="#5a5a5a"/></svg>
<svg class="r" style="left:47px;top:54px" width="36" height="9"><rect x="0.00" y="0.00" width="36.00" height="9.00" fill="#fb9f25"/></svg>
<svg class="r" style="left:83px;top:54px" width="5" height="9"><rect x="0.30" y="0.00" width="4.70" height="9.00" fill="#5a5a5a"/></svg>
<svg class="r" style="left:91px;top:54px" width="41" height="9"><rect x="0.75" y="0.00" width="40.00" height="9.00" fill="#fb9f25"/></svg>
<svg class="r" style="left:134px;top:54px" width="34" height="9"><rect x="0.25" y="0.00" width="33.25" height="9.00" fill="#fb9f25"/></svg>
<svg class="r" style="left:167px;top:54px" width="6" height="9"><rect x="0.50" y="0.00" width="5.50" height="9.00" fill="#4a4a4a"/></svg>
<svg class="r" style="left:44px;top:58px" width="2" height="2"><rect x="0.30" y="0.30" width="1.70" height="1.00" fill="#ffa424"/></svg>
<span class="t m" style="left:1.70px;top:55.78px;font-size:8.97px;transform:scaleX(0.637);color:#2a1700;"><i>0</i><i>5</i>/<i>1</i><i>8</i>/<i>2</i><i>0</i><i>2</i><i>4</i></span>
<span class="t m" style="left:47.80px;top:55.78px;font-size:8.97px;transform:scaleX(0.644);color:#2a1700;"><i>0</i><i>5</i>/<i>1</i><i>9</i>/<i>2</i><i>0</i><i>2</i><i>5</i></span>
<span class="t" style="left:93.40px;top:55.24px;font-size:8.58px;transform:scaleX(0.720);color:#4a2e04;">Last Px</span>
<span class="t" style="left:135.25px;top:55.24px;font-size:8.58px;transform:scaleX(0.646);color:#4a2e04;">Local CCY</span>
<svg class="r" style="left:167px;top:56px" width="6" height="6"><path d="M1.80 1.60h3L3.30 4.20z" fill="#e4e4e4"/></svg>
<svg class="r" style="left:37px;top:56px" width="4" height="2"><rect x="0.80" y="0.00" width="3.00" height="2.00" fill="#bdbdbd"/></svg>
<svg class="r" style="left:37px;top:59px" width="4" height="2"><rect x="0.80" y="0.00" width="3.00" height="2.00" fill="#bdbdbd"/></svg>
<svg class="r" style="left:84px;top:56px" width="4" height="2"><rect x="0.20" y="0.00" width="3.00" height="2.00" fill="#bdbdbd"/></svg>
<svg class="r" style="left:84px;top:59px" width="4" height="2"><rect x="0.20" y="0.00" width="3.00" height="2.00" fill="#bdbdbd"/></svg>
<svg class="r" style="left:176px;top:55px" width="6" height="7"><rect x="0.90" y="0.30" width="4.50" height="5.90" fill="#1473f0"/></svg>
<span class="t" style="left:184.25px;top:55.24px;font-size:8.58px;transform:scaleX(0.645);color:#ff9d18;font-weight:bold;">Mov Avgs</span>
<svg class="r" style="left:221px;top:55px" width="5" height="7"><rect x="0.40" y="0.80" width="4.60" height="5.60" fill="#4c4c4c"/></svg>
<span class="t" style="left:229.00px;top:55.24px;font-size:8.58px;transform:scaleX(0.659);color:#ff9d18;font-weight:bold;">Key Events</span>
<svg class="r" style="left:0px;top:64px" width="736" height="10"><rect x="0.00" y="0.00" width="736.00" height="9.60" fill="#1b1b1b"/></svg>
<svg class="r" style="left:73px;top:64px" width="13" height="10"><rect x="0.00" y="0.00" width="13.00" height="10.00" fill="#0b63d8"/></svg>
<svg class="r" style="left:154px;top:64px" width="10" height="10"><rect x="0.00" y="0.00" width="9.40" height="10.00" fill="#0b63d8"/></svg>
<svg class="r" style="left:176px;top:64px" width="28" height="10"><rect x="0.00" y="0.00" width="27.60" height="9.60" fill="#222"/></svg>
<svg class="r" style="left:13px;top:64px" width="2" height="10"><rect x="0.60" y="0.00" width="0.80" height="9.60" fill="#2c2c2c"/></svg>
<svg class="r" style="left:27px;top:64px" width="2" height="10"><rect x="0.60" y="0.00" width="0.80" height="9.60" fill="#2c2c2c"/></svg>
<svg class="r" style="left:41px;top:64px" width="2" height="10"><rect x="0.60" y="0.00" width="0.80" height="9.60" fill="#2c2c2c"/></svg>
<svg class="r" style="left:55px;top:64px" width="2" height="10"><rect x="0.60" y="0.00" width="0.80" height="9.60" fill="#2c2c2c"/></svg>
<svg class="r" style="left:99px;top:64px" width="2" height="10"><rect x="0.60" y="0.00" width="0.80" height="9.60" fill="#2c2c2c"/></svg>
<svg class="r" style="left:116px;top:64px" width="1" height="10"><rect x="0.10" y="0.00" width="0.80" height="9.60" fill="#2c2c2c"/></svg>
<svg class="r" style="left:141px;top:64px" width="2" height="10"><rect x="0.60" y="0.00" width="0.80" height="9.60" fill="#2c2c2c"/></svg>
<svg class="r" style="left:165px;top:64px" width="2" height="10"><rect x="0.60" y="0.00" width="0.80" height="9.60" fill="#2c2c2c"/></svg>
<svg class="r" style="left:175px;top:64px" width="2" height="10"><rect x="0.60" y="0.00" width="0.80" height="9.60" fill="#2c2c2c"/></svg>
<svg class="r" style="left:203px;top:64px" width="1" height="10"><rect x="0.20" y="0.00" width="0.80" height="9.60" fill="#2c2c2c"/></svg>
<span class="t" style="left:4.00px;top:66.38px;font-size:6.40px;transform:scaleX(0.673);color:#ffffff;font-weight:bold;-webkit-text-stroke:0.2px #fff;">1D</span>
<span class="t" style="left:17.50px;top:66.38px;font-size:6.40px;transform:scaleX(0.734);color:#ffffff;font-weight:bold;-webkit-text-stroke:0.2px #fff;">3D</span>
<span class="t" style="left:31.50px;top:66.38px;font-size:6.40px;transform:scaleX(0.674);color:#ffffff;font-weight:bold;-webkit-text-stroke:0.2px #fff;">1M</span>
<span class="t" style="left:46.00px;top:66.38px;font-size:6.40px;transform:scaleX(0.674);color:#ffffff;font-weight:bold;-webkit-text-stroke:0.2px #fff;">6M</span>
<span class="t" style="left:59.50px;top:66.38px;font-size:6.40px;transform:scaleX(0.742);color:#ffffff;font-weight:bold;-webkit-text-stroke:0.2px #fff;">YTD</span>
<span class="t" style="left:77.00px;top:66.38px;font-size:6.40px;transform:scaleX(0.703);color:#ffffff;font-weight:bold;-webkit-text-stroke:0.2px #fff;">1Y</span>
<span class="t" style="left:90.25px;top:66.38px;font-size:6.40px;transform:scaleX(0.735);color:#ffffff;font-weight:bold;-webkit-text-stroke:0.2px #fff;">5Y</span>
<span class="t" style="left:104.00px;top:66.38px;font-size:6.40px;transform:scaleX(0.723);color:#ffffff;font-weight:bold;-webkit-text-stroke:0.2px #fff;">Max</span>
<span class="t" style="left:120.00px;top:66.38px;font-size:6.40px;transform:scaleX(0.850);color:#ffffff;font-weight:bold;-webkit-text-stroke:0.2px #fff;">Daily</span>
<svg class="r" style="left:133px;top:65px" width="9" height="8"><path d="M1.40 1.70h5.2L4.00 6.50z" fill="#fff"/></svg>
<svg class="r" style="left:169px;top:66px" width="6" height="6"><path d="M1.20 1.90h2.8L2.60 4.40z" fill="#e4e4e4"/></svg>
<span class="t" style="left:183.60px;top:66.38px;font-size:6.40px;transform:scaleX(0.850);color:#ffffff;font-weight:bold;-webkit-text-stroke:0.2px #fff;">Table</span>
<span class="t" style="left:585.60px;top:66.38px;font-size:6.40px;transform:scaleX(0.815);color:#ffffff;font-weight:bold;-webkit-text-stroke:0.2px #fff;">Related Data</span>
<svg class="r" style="left:618px;top:66px" width="6" height="6"><path d="M1.80 1.90h2.8L3.20 4.40z" fill="#c4c4c4"/></svg>
<svg class="r" style="left:629px;top:64px" width="52" height="10"><rect x="0.00" y="0.00" width="51.25" height="9.40" fill="#fb9f25"/></svg>
<span class="t" style="left:630.30px;top:65.01px;font-size:8.73px;transform:scaleX(0.692);color:#a4640c;">Add Data</span>
<span class="t" style="left:699.00px;top:66.38px;font-size:6.40px;transform:scaleX(0.798);color:#ffffff;font-weight:bold;-webkit-text-stroke:0.2px #fff;">Edit Chart</span>
<svg class="r" style="left:2px;top:76px" width="88" height="48"><rect x="0.00" y="0.00" width="87.80" height="47.50" fill="#151515"/></svg>
<span class="t" style="left:14.00px;top:79.70px;font-size:5.67px;transform:scaleX(0.931);color:#c8c8c8;">Last Price</span>
<span class="t" style="left:69.60px;top:79.70px;font-size:5.67px;transform:scaleX(0.873);color:#c8c8c8;">5958.38</span>
<span class="t" style="left:14.00px;top:85.85px;font-size:5.67px;transform:scaleX(0.949);color:#c8c8c8;">High on 02/19/25</span>
<span class="t" style="left:69.60px;top:85.85px;font-size:5.67px;transform:scaleX(0.873);color:#c8c8c8;">6147.43</span>
<span class="t" style="left:14.00px;top:92.00px;font-size:5.67px;transform:scaleX(0.856);color:#c8c8c8;">Average</span>
<span class="t" style="left:69.60px;top:92.00px;font-size:5.67px;transform:scaleX(0.873);color:#c8c8c8;">5697.85</span>
<span class="t" style="left:14.00px;top:98.15px;font-size:5.67px;transform:scaleX(0.948);color:#c8c8c8;">Low on 04/07/25</span>
<span class="t" style="left:69.60px;top:98.15px;font-size:5.67px;transform:scaleX(0.873);color:#c8c8c8;">4835.04</span>
<span class="t" style="left:14.00px;top:104.30px;font-size:5.67px;transform:scaleX(0.886);color:#c8c8c8;">SMAVG (50)  on Close</span>
<span class="t" style="left:69.60px;top:104.30px;font-size:5.67px;transform:scaleX(0.873);color:#c8c8c8;">5558.32</span>
<span class="t" style="left:14.00px;top:110.45px;font-size:5.67px;transform:scaleX(0.885);color:#c8c8c8;">SMAVG (100)  on Close</span>
<span class="t" style="left:69.60px;top:110.45px;font-size:5.67px;transform:scaleX(0.873);color:#c8c8c8;">5771.92</span>
<span class="t" style="left:14.00px;top:116.60px;font-size:5.67px;transform:scaleX(0.885);color:#c8c8c8;">SMAVG (200)  on Close</span>
<span class="t" style="left:69.60px;top:116.60px;font-size:5.67px;transform:scaleX(0.873);color:#c8c8c8;">5759.85</span>
<svg class="r" style="left:8px;top:79px" width="5" height="5"><rect x="0.00" y="0.00" width="5.00" height="5.00" fill="#f2f2f2"/></svg>
<svg class="r" style="left:8px;top:103px" width="5" height="6"><rect x="0.00" y="0.50" width="5.00" height="5.00" fill="#e0109c"/></svg>
<svg class="r" style="left:8px;top:109px" width="5" height="6"><rect x="0.00" y="0.80" width="5.00" height="4.80" fill="#22b83c"/></svg>
<svg class="r" style="left:8px;top:116px" width="5" height="5"><rect x="0.00" y="0.00" width="5.00" height="5.00" fill="#f2d400"/></svg>
<span class="t" style="left:718.20px;top:424.85px;font-size:5.38px;transform:scaleX(0.885);color:#cacaca;">4800</span>
<span class="t" style="left:718.20px;top:377.29px;font-size:5.38px;transform:scaleX(0.885);color:#cacaca;">5000</span>
<span class="t" style="left:718.20px;top:329.73px;font-size:5.38px;transform:scaleX(0.885);color:#cacaca;">5200</span>
<span class="t" style="left:718.20px;top:282.17px;font-size:5.38px;transform:scaleX(0.885);color:#cacaca;">5400</span>
<span class="t" style="left:718.20px;top:234.61px;font-size:5.38px;transform:scaleX(0.885);color:#cacaca;">5600</span>
<span class="t" style="left:718.20px;top:187.05px;font-size:5.38px;transform:scaleX(0.885);color:#cacaca;">5800</span>
<span class="t" style="left:718.20px;top:139.49px;font-size:5.38px;transform:scaleX(0.885);color:#cacaca;">6000</span>
<span class="t" style="left:718.20px;top:91.93px;font-size:5.38px;transform:scaleX(0.885);color:#cacaca;">6200</span>
<span class="t" style="left:718.20px;top:149.64px;font-size:5.38px;transform:scaleX(0.894);color:#5a5a5a;">5958.38</span>
<span class="t" style="left:718.20px;top:193.98px;font-size:5.38px;transform:scaleX(0.894);color:#d8f5dc;">5771.92</span>
<span class="t" style="left:718.20px;top:244.78px;font-size:5.38px;transform:scaleX(0.894);color:#f6d8ec;">5558.32</span>
<span class="t" style="left:45.80px;top:475.27px;font-size:5.24px;transform:scaleX(0.995);color:#c6c6c6;">Jun</span>
<span class="t" style="left:103.30px;top:475.27px;font-size:5.24px;transform:scaleX(1.256);color:#c6c6c6;">Jul</span>
<span class="t" style="left:165.30px;top:475.27px;font-size:5.24px;transform:scaleX(0.901);color:#c6c6c6;">Aug</span>
<span class="t" style="left:225.30px;top:475.27px;font-size:5.24px;transform:scaleX(0.901);color:#c6c6c6;">Sep</span>
<span class="t" style="left:285.80px;top:475.27px;font-size:5.24px;transform:scaleX(1.032);color:#c6c6c6;">Oct</span>
<span class="t" style="left:346.80px;top:475.27px;font-size:5.24px;transform:scaleX(0.902);color:#c6c6c6;">Nov</span>
<span class="t" style="left:404.80px;top:475.27px;font-size:5.24px;transform:scaleX(0.902);color:#c6c6c6;">Dec</span>
<span class="t" style="left:463.05px;top:475.27px;font-size:5.24px;transform:scaleX(0.995);color:#c6c6c6;">Jan</span>
<span class="t" style="left:518.05px;top:475.27px;font-size:5.24px;transform:scaleX(0.931);color:#c6c6c6;">Feb</span>
<span class="t" style="left:574.30px;top:475.27px;font-size:5.24px;transform:scaleX(0.931);color:#c6c6c6;">Mar</span>
<span class="t" style="left:633.80px;top:475.27px;font-size:5.24px;transform:scaleX(1.032);color:#c6c6c6;">Apr</span>
<span class="t" style="left:695.30px;top:475.27px;font-size:5.24px;transform:scaleX(0.849);color:#c6c6c6;">May</span>
<span class="t" style="left:214.50px;top:480.89px;font-size:5.09px;transform:scaleX(0.883);color:#bdbdbd;">2024</span>
<span class="t" style="left:571.50px;top:480.89px;font-size:5.09px;transform:scaleX(0.883);color:#bdbdbd;">2025</span>

<svg class="ic" style="left:176.9px;top:55.3px" width="5" height="6" viewBox="0 0 5 6"><path d="M0.9 3.2L1.9 4.4L3.8 1.4" stroke="#0a1a3a" stroke-width="0.9" fill="none"/></svg>
<svg class="ic" style="left:579px;top:65px" width="7" height="8" viewBox="0 0 7 8"><path d="M3 1.8V6.2M0.9 4H5.1" stroke="#e8e8e8" stroke-width="1" fill="none"/></svg>
<svg class="ic" style="left:682px;top:65px" width="8" height="8" viewBox="0 0 8 8"><path d="M3 1.7L1.4 4L3 6.3M5.4 1.7L3.8 4L5.4 6.3" stroke="#d4d4d4" stroke-width="0.9" fill="none"/></svg>
<svg class="ic" style="left:5px;top:26px" width="12" height="11" viewBox="0 0 12 11"><rect width="11.25" height="11" fill="#f6e000"/><path d="M2.6 9.2A4.3 4.3 0 1 1 8.8 9.2z" fill="none" stroke="#3c3200" stroke-width="1"/><path d="M5.7 1.8V9.2" stroke="#3c3200" stroke-width="0.9" fill="none"/><path d="M3 6.3H4.2M7.2 6.3H8.4M3.4 4.2H4.2M7.2 4.2H8" stroke="#3c3200" stroke-width="0.6" fill="none"/></svg>
<svg class="ic" style="left:115px;top:13px" width="38" height="13" viewBox="115 13 38 13"><polyline points="116.5,23.4 118.5,23.4 120,21 122,20.3 124,19.3 126,19.6 128,20.3 130,19.8 132,20.2" fill="none" stroke="#fff" stroke-width="1.3"/><rect x="116" y="22.5" width="3.2" height="2" fill="#fff"/><polyline points="135,19.6 139.5,19.4" fill="none" stroke="#e41010" stroke-width="1.1"/><polyline points="136.5,18.6 138.5,17.8 140.5,18 142.5,16.9 144,17.2 146,16 148,16.6 149.5,15.6 151,16" fill="none" stroke="#14ee2e" stroke-width="1.4"/></svg>
<svg class="ic" style="left:210.5px;top:55.5px" width="7" height="7" viewBox="0 0 7 7"><path d="M1.6 5.4L5.4 1" stroke="#c4c4c4" stroke-width="1.7"/><path d="M0.3 6.8L2.3 6L1 4.7z" fill="#f4f4f4"/></svg>
<svg class="ic" style="left:691.5px;top:65.5px" width="7" height="7" viewBox="0 0 7 7"><path d="M1.6 5.4L5.4 1" stroke="#c4c4c4" stroke-width="1.7"/><path d="M0.3 6.8L2.3 6L1 4.7z" fill="#f4f4f4"/></svg>
<svg class="ic" style="left:727.5px;top:65.3px" width="7" height="7" viewBox="0 0 7 7"><circle cx="3.5" cy="3.5" r="2" fill="none" stroke="#d8d8d8" stroke-width="1.3"/><path d="M3.5 0.3V6.7M0.3 3.5H6.7M1.2 1.2L5.8 5.8M5.8 1.2L1.2 5.8" stroke="#d8d8d8" stroke-width="0.7"/><circle cx="3.5" cy="3.5" r="0.8" fill="#1b1b1b"/></svg>
<svg class="ic" style="left:145.5px;top:65.5px" width="7" height="7" viewBox="0 0 7 7"><path d="M0.6 0.6V6.4H6.4" stroke="#8a8a8a" stroke-width="0.8" fill="none"/><path d="M1.2 4.4L2.8 2.6L4 3.6L6 1.4" stroke="#9a9a9a" stroke-width="0.8" fill="none"/></svg>
<svg class="ic" style="left:155.5px;top:65px" width="7" height="8" viewBox="0 0 7 8"><path d="M2 0.8V7.2M5 1.6V7.2" stroke="#dfe9ff" stroke-width="0.6"/><rect x="1.4" y="2.2" width="1.2" height="2.6" fill="#fff"/><rect x="4.4" y="3.6" width="1.2" height="1.8" fill="#fff"/></svg>
<svg class="ic" style="left:3.5px;top:78.5px" width="9" height="44" viewBox="3.5 78.5 9 44"><path d="M5 80V119M5 88H7M5 94.2H7M5 100.3H7M5 106.4H7M5 112.5H7M5 118.7H7" stroke="#6a6a6a" stroke-width="0.6" fill="none"/><path d="M4 79.5h2v2.2h-2z" stroke="#8a8a8a" stroke-width="0.5" fill="#151515"/><path d="M9 85.7h3M10.5 85.7V90.6M8.6 94.3h3.8M10.5 92.8v3M9 102.8h3M10.5 97.8V102.8" stroke="#8c8c8c" stroke-width="0.6" fill="none"/></svg>
<pre class="foot m">Australia <i>6</i><i>1</i> <i>2</i> <i>9</i><i>7</i><i>7</i><i>7</i> <i>8</i><i>6</i><i>0</i><i>0</i> Brazil <i>5</i><i>5</i><i>1</i><i>1</i> <i>2</i><i>3</i><i>9</i><i>5</i> <i>9</i><i>0</i><i>0</i><i>0</i> Europe <i>4</i><i>4</i> <i>2</i><i>0</i> <i>7</i><i>3</i><i>3</i><i>0</i> <i>7</i><i>5</i><i>0</i><i>0</i> Germany <i>4</i><i>9</i> <i>6</i><i>9</i> <i>9</i><i>2</i><i>0</i><i>4</i> <i>1</i><i>2</i><i>1</i><i>0</i> Hong Kong <i>8</i><i>5</i><i>2</i> <i>2</i><i>9</i><i>7</i><i>7</i> <i>6</i><i>0</i><i>0</i><i>0</i>
Japan <i>8</i><i>1</i> <i>3</i> <i>4</i><i>5</i><i>6</i><i>5</i> <i>8</i><i>9</i><i>0</i><i>0</i>      Singapore <i>6</i><i>5</i> <i>6</i><i>2</i><i>1</i><i>2</i> <i>1</i><i>0</i><i>0</i><i>0</i>      U.S. <i>1</i> <i>2</i><i>1</i><i>2</i> <i>3</i><i>1</i><i>8</i> <i>2</i><i>0</i><i>0</i><i>0</i>       Copyright <i>2</i><i>0</i><i>2</i><i>5</i> Bloomberg Finance L.P.
                                                                           SN <i>3</i><i>3</i><i>7</i><i>9</i><i>1</i><i>9</i><i>0</i> EDT  GMT-<i>4</i>:<i>0</i><i>0</i> ba<i>1</i><i>4</i><i>4</i><i>4</i>-<i>1</i><i>7</i><i>3</i> <i>1</i><i>8</i>-May-<i>2</i><i>0</i><i>2</i><i>5</i> <i>1</i><i>3</i>:<i>5</i><i>2</i>:<i>1</i><i>1</i></pre>
</body></html>
